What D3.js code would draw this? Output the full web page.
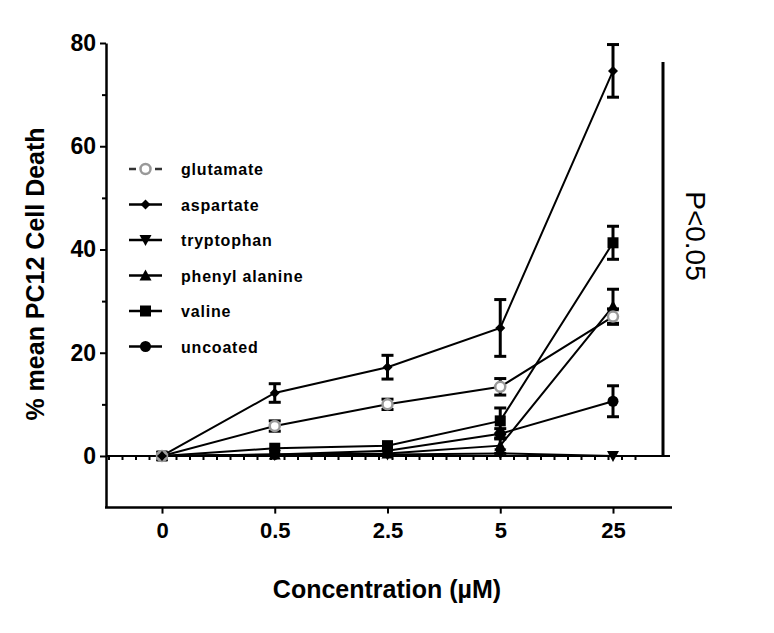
<!DOCTYPE html>
<html><head><meta charset="utf-8">
<script src="https://cdn.jsdelivr.net/npm/d3@7"></script>
<style>body{margin:0;background:#fff}svg{display:block}text{font-family:"Liberation Sans",Arial,sans-serif}</style>
</head><body><svg id="c" width="774" height="633"></svg>
<script>
const categories = ["0","0.5","2.5","5","25"];
const yTicks = [0,20,40,60,80];
const yMinorTicks = [10,30,50,70];
const seriesNames = ["glutamate","aspartate","tryptophan","phenyl alanine","valine","uncoated"];
const glutamate = [0, 5.8, 10.0, 13.4, 27.0];
const glutamateErr = [0.5, 1.0, 1.0, 1.6, 1.5];
const aspartate = [0, 12.2, 17.2, 24.8, 74.6];
const aspartateErr = [0.5, 1.8, 2.3, 5.5, 5.1];
const tryptophan = [0, 0.2, 0.3, 0.5, 0.0];
const tryptophanErr = [0.3, 0.3, 0.3, 0.5, 0.3];
const phenylAlanine = [0, 0.3, 0.5, 2.0, 29.0];
const phenylAlanineErr = [0.3, 0.3, 0.4, 1.5, 3.3];
const valine = [0, 1.5, 2.0, 6.8, 41.3];
const valineErr = [0.5, 0.5, 0.6, 2.5, 3.2];
const uncoated = [0, 0.3, 1.0, 4.3, 10.6];
const uncoatedErr = [0.5, 0.4, 0.5, 1.0, 3.0];

const series = [
  {name:"tryptophan", v:tryptophan, e:tryptophanErr, sym:"tridown"},
  {name:"phenyl alanine", v:phenylAlanine, e:phenylAlanineErr, sym:"triup"},
  {name:"uncoated", v:uncoated, e:uncoatedErr, sym:"circle"},
  {name:"valine", v:valine, e:valineErr, sym:"square"},
  {name:"glutamate", v:glutamate, e:glutamateErr, sym:"open"},
  {name:"aspartate", v:aspartate, e:aspartateErr, sym:"diamond"}
];

const svg = d3.select("#c");
const x = d3.scalePoint().domain(categories).range([162, 613]);
const y = d3.scaleLinear().domain([-10, 80]).range([507.6, 43]);

function drawSym(g, sym, cx, cy){
  if(sym==="circle") g.append("circle").attr("cx",cx).attr("cy",cy).attr("r",5.5).attr("fill","#000");
  else if(sym==="open") g.append("circle").attr("cx",cx).attr("cy",cy).attr("r",5).attr("fill","#fff").attr("stroke","#999").attr("stroke-width",2.5);
  else if(sym==="square") g.append("rect").attr("x",cx-5.5).attr("y",cy-5.5).attr("width",11).attr("height",11).attr("fill","#000");
  else if(sym==="diamond") g.append("path").attr("d",`M${cx},${cy-5}L${cx+5},${cy}L${cx},${cy+5}L${cx-5},${cy}Z`).attr("fill","#000");
  else if(sym==="triup") g.append("path").attr("d",`M${cx},${cy-6}L${cx+6},${cy+5}L${cx-6},${cy+5}Z`).attr("fill","#000");
  else if(sym==="tridown") g.append("path").attr("d",`M${cx},${cy+6}L${cx+6},${cy-5}L${cx-6},${cy-5}Z`).attr("fill","#000");
}

// zero line with ticks
svg.append("line").attr("x1",106).attr("x2",670).attr("y1",y(0)).attr("y2",y(0)).attr("stroke","#000").attr("stroke-width",2);
svg.append("line").attr("x1",108).attr("x2",645).attr("y1",y(0)+2.5).attr("y2",y(0)+2.5).attr("stroke","#000").attr("stroke-width",3).attr("stroke-dasharray","2,11.5");

// Y axis
const yAxis = d3.axisLeft(y).tickValues(yTicks).tickSize(6).tickSizeOuter(0).tickPadding(4);
const ya = svg.append("g").attr("transform","translate(106,0)").call(yAxis);
ya.select(".domain").attr("stroke-width",2.5);
ya.selectAll(".tick line").attr("stroke-width",2);
ya.selectAll(".tick text").attr("font-size",23).attr("font-weight","bold").attr("fill","#000");
const yMinor = d3.axisLeft(y).tickValues(yMinorTicks).tickSize(4).tickFormat("");
const ym = svg.append("g").attr("transform","translate(106,0)").call(yMinor);
ym.select(".domain").remove();
ym.selectAll(".tick line").attr("stroke-width",2);

// X axis
const xAxis = d3.axisBottom(x).tickSize(6).tickSizeOuter(0).tickPadding(9);
const xa = svg.append("g").attr("transform",`translate(0,${y(-10)})`).call(xAxis);
xa.select(".domain").attr("d","M105,0H672").attr("stroke-width",2.5);
xa.selectAll(".tick line").attr("stroke-width",2);
xa.selectAll(".tick text").attr("font-size",22).attr("font-weight","bold").attr("fill","#000");

// significance bracket
svg.append("line").attr("x1",663).attr("x2",663).attr("y1",62).attr("y2",y(0)+1).attr("stroke","#000").attr("stroke-width",3);
svg.append("text").attr("transform","translate(686,236) rotate(90)").attr("text-anchor","middle")
  .attr("font-size",28).text("P<0.05");

// lines
const line = d3.line().x((d,i)=>x(categories[i])).y(d=>y(d));
series.forEach(s=>{
  svg.append("path").attr("d",line(s.v)).attr("fill","none").attr("stroke","#000").attr("stroke-width",2);
});
// error bars + markers
series.forEach(s=>{
  const g = svg.append("g");
  s.v.forEach((v,i)=>{
    const cx = x(categories[i]);
    const e = s.e[i];
    if(e>0.6){
      g.append("line").attr("x1",cx).attr("x2",cx).attr("y1",y(v+e)).attr("y2",y(v-e)).attr("stroke","#000").attr("stroke-width",3);
      [v+e,v-e].forEach(t=>g.append("line").attr("x1",cx-6).attr("x2",cx+6).attr("y1",y(t)).attr("y2",y(t)).attr("stroke","#000").attr("stroke-width",3));
    }
    drawSym(g, s.sym, cx, y(v));
  });
});

// legend
const legendSyms = {"glutamate":"open","aspartate":"diamond","tryptophan":"tridown","phenyl alanine":"triup","valine":"square","uncoated":"circle"};
seriesNames.forEach((n,i)=>{
  const ly = 169 + i*35.5;
  const g = svg.append("g");
  if(n==="glutamate"){
    g.append("line").attr("x1",129).attr("x2",162).attr("y1",ly).attr("y2",ly).attr("stroke","#333").attr("stroke-width",2.5).attr("stroke-dasharray","7,4,11,4,7");
  } else {
    g.append("line").attr("x1",129).attr("x2",162).attr("y1",ly).attr("y2",ly).attr("stroke","#000").attr("stroke-width",2.5);
  }
  drawSym(g, legendSyms[n], 145.5, ly);
  g.append("text").attr("x",181).attr("y",ly+6).attr("font-size",16).attr("font-weight","bold").attr("letter-spacing",0.8).text(n);
});

// axis titles
svg.append("text").attr("transform","translate(44,274) rotate(-90)").attr("text-anchor","middle")
  .attr("font-size",25).attr("font-weight","bold").text("% mean PC12 Cell Death");
svg.append("text").attr("x",387).attr("y",598).attr("text-anchor","middle")
  .attr("font-size",25).attr("font-weight","bold").text("Concentration (\u00B5M)");
</script></body></html>
